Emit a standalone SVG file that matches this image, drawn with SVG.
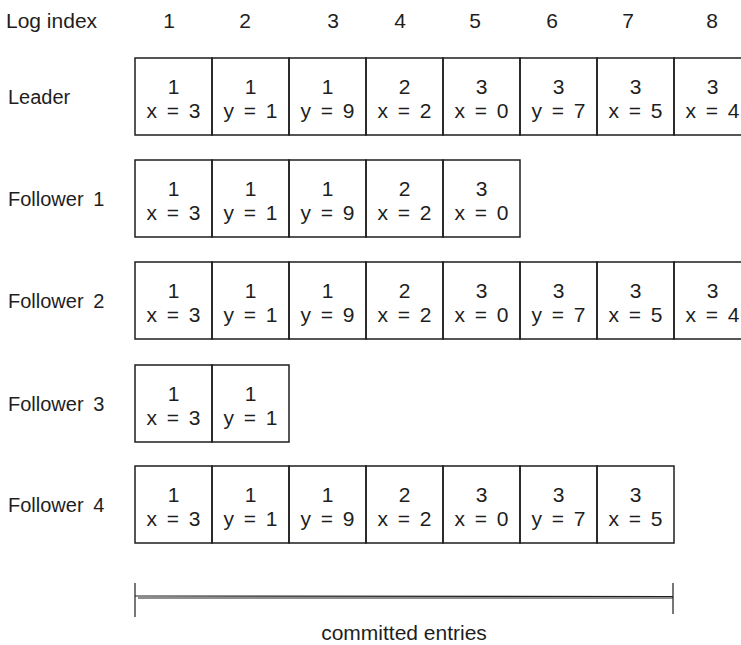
<svg xmlns="http://www.w3.org/2000/svg" width="741" height="645" viewBox="0 0 741 645">
<style>
text{font-family:"Liberation Sans",Arial,sans-serif;font-size:21px;fill:#1e1e1e}
.c text{text-anchor:middle;font-size:21px;word-spacing:4px}
.c rect{fill:none;stroke:#1e1e1e;stroke-width:1.5}
.lbl{text-anchor:start !important;font-size:20px !important}
.hdr{text-anchor:middle}
.br{stroke:#1e1e1e;stroke-width:1.2;fill:none}
</style>
<rect width="741" height="645" fill="#ffffff"/>
<g id="header">
<text x="6" y="28">Log index</text>
<text class="hdr" x="169" y="28">1</text>
<text class="hdr" x="245" y="28">2</text>
<text class="hdr" x="333" y="28">3</text>
<text class="hdr" x="400" y="28">4</text>
<text class="hdr" x="475" y="28">5</text>
<text class="hdr" x="552" y="28">6</text>
<text class="hdr" x="628" y="28">7</text>
<text class="hdr" x="712" y="28">8</text>
</g>
<g id="leader" class="c">
<text class="lbl" x="8" y="104">Leader</text>
<rect x="135" y="58" width="77" height="77"/><text x="173.5" y="94">1</text><text x="173.5" y="118">x = 3</text>
<rect x="212" y="58" width="77" height="77"/><text x="250.5" y="94">1</text><text x="250.5" y="118">y = 1</text>
<rect x="289" y="58" width="77" height="77"/><text x="327.5" y="94">1</text><text x="327.5" y="118">y = 9</text>
<rect x="366" y="58" width="77" height="77"/><text x="404.5" y="94">2</text><text x="404.5" y="118">x = 2</text>
<rect x="443" y="58" width="77" height="77"/><text x="481.5" y="94">3</text><text x="481.5" y="118">x = 0</text>
<rect x="520" y="58" width="77" height="77"/><text x="558.5" y="94">3</text><text x="558.5" y="118">y = 7</text>
<rect x="597" y="58" width="77" height="77"/><text x="635.5" y="94">3</text><text x="635.5" y="118">x = 5</text>
<rect x="674" y="58" width="77" height="77"/><text x="712.5" y="94">3</text><text x="712.5" y="118">x = 4</text>
</g>
<g id="follower1" class="c">
<text class="lbl" x="8" y="206">Follower 1</text>
<rect x="135" y="160" width="77" height="77"/><text x="173.5" y="196">1</text><text x="173.5" y="220">x = 3</text>
<rect x="212" y="160" width="77" height="77"/><text x="250.5" y="196">1</text><text x="250.5" y="220">y = 1</text>
<rect x="289" y="160" width="77" height="77"/><text x="327.5" y="196">1</text><text x="327.5" y="220">y = 9</text>
<rect x="366" y="160" width="77" height="77"/><text x="404.5" y="196">2</text><text x="404.5" y="220">x = 2</text>
<rect x="443" y="160" width="77" height="77"/><text x="481.5" y="196">3</text><text x="481.5" y="220">x = 0</text>
</g>
<g id="follower2" class="c">
<text class="lbl" x="8" y="308">Follower 2</text>
<rect x="135" y="262" width="77" height="77"/><text x="173.5" y="298">1</text><text x="173.5" y="322">x = 3</text>
<rect x="212" y="262" width="77" height="77"/><text x="250.5" y="298">1</text><text x="250.5" y="322">y = 1</text>
<rect x="289" y="262" width="77" height="77"/><text x="327.5" y="298">1</text><text x="327.5" y="322">y = 9</text>
<rect x="366" y="262" width="77" height="77"/><text x="404.5" y="298">2</text><text x="404.5" y="322">x = 2</text>
<rect x="443" y="262" width="77" height="77"/><text x="481.5" y="298">3</text><text x="481.5" y="322">x = 0</text>
<rect x="520" y="262" width="77" height="77"/><text x="558.5" y="298">3</text><text x="558.5" y="322">y = 7</text>
<rect x="597" y="262" width="77" height="77"/><text x="635.5" y="298">3</text><text x="635.5" y="322">x = 5</text>
<rect x="674" y="262" width="77" height="77"/><text x="712.5" y="298">3</text><text x="712.5" y="322">x = 4</text>
</g>
<g id="follower3" class="c">
<text class="lbl" x="8" y="411">Follower 3</text>
<rect x="135" y="365" width="77" height="77"/><text x="173.5" y="401">1</text><text x="173.5" y="425">x = 3</text>
<rect x="212" y="365" width="77" height="77"/><text x="250.5" y="401">1</text><text x="250.5" y="425">y = 1</text>
</g>
<g id="follower4" class="c">
<text class="lbl" x="8" y="512">Follower 4</text>
<rect x="135" y="466" width="77" height="77"/><text x="173.5" y="502">1</text><text x="173.5" y="526">x = 3</text>
<rect x="212" y="466" width="77" height="77"/><text x="250.5" y="502">1</text><text x="250.5" y="526">y = 1</text>
<rect x="289" y="466" width="77" height="77"/><text x="327.5" y="502">1</text><text x="327.5" y="526">y = 9</text>
<rect x="366" y="466" width="77" height="77"/><text x="404.5" y="502">2</text><text x="404.5" y="526">x = 2</text>
<rect x="443" y="466" width="77" height="77"/><text x="481.5" y="502">3</text><text x="481.5" y="526">x = 0</text>
<rect x="520" y="466" width="77" height="77"/><text x="558.5" y="502">3</text><text x="558.5" y="526">y = 7</text>
<rect x="597" y="466" width="77" height="77"/><text x="635.5" y="502">3</text><text x="635.5" y="526">x = 5</text>
</g>
<g id="connectors">
<path class="br" d="M135 596 L673 596.5 M138 598 L673 598"/>
<path class="br" d="M135 583 L135 617 M673 583 L673 614"/>
</g>
<g id="committed">
<text x="404" y="640" text-anchor="middle">committed entries</text>
</g>
</svg>
